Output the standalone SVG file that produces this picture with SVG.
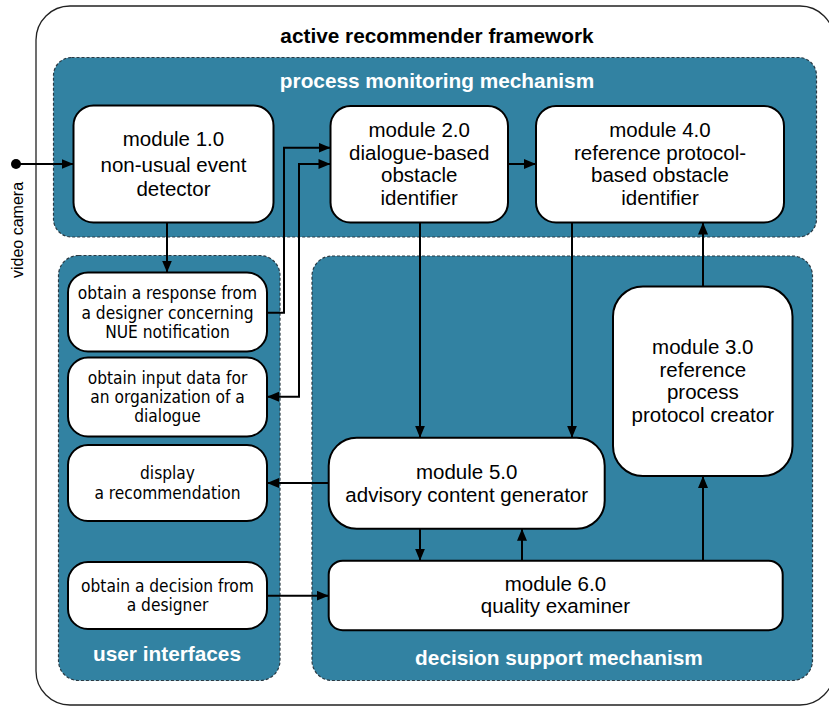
<svg xmlns="http://www.w3.org/2000/svg" width="829" height="706" viewBox="0 0 829 706">
<defs>
<marker id="ah" markerUnits="userSpaceOnUse" markerWidth="13" markerHeight="11" refX="12" refY="5" orient="auto">
<path d="M0,0 L12,5 L0,10 z" fill="#000"/>
</marker>
<marker id="ahs" markerUnits="userSpaceOnUse" markerWidth="13" markerHeight="11" refX="0" refY="5" orient="auto">
<path d="M12,0 L0,5 L12,10 z" fill="#000"/>
</marker>
<style>
.frame{fill:#fff;stroke:#222;stroke-width:1.3}
.grp{fill:#3282a2;stroke:#2a3a44;stroke-width:1.2;stroke-dasharray:3,2}
.node{fill:#fff;stroke:#000;stroke-width:2}
.mt{font-family:"Liberation Sans",Arial,sans-serif;font-size:20.5px;fill:#000;text-anchor:middle}
.ut{font-family:"DejaVu Sans Condensed","DejaVu Sans",sans-serif;font-stretch:condensed;font-size:17.2px;fill:#000;text-anchor:middle}
.bt{font-family:"Liberation Sans",Arial,sans-serif;font-size:20.8px;font-weight:bold;text-anchor:middle}
.wt{fill:#fff}
.c{fill:none;stroke:#000;stroke-width:2}
.ca{fill:none;stroke:#000;stroke-width:2;marker-end:url(#ah)}
</style>
</defs>
<rect class="frame" x="36" y="6" width="798" height="699" rx="34"/>
<text class="bt" x="437" y="43" fill="#000">active recommender framework</text>
<g id="process-monitoring">
<rect class="grp" x="53.5" y="57.5" width="763" height="179.5" rx="18"/>
<text class="bt wt" x="437" y="88">process monitoring mechanism</text>
</g>
<g id="user-interfaces">
<rect class="grp" x="58.5" y="255.5" width="221.5" height="425" rx="20"/>
<text class="bt wt" x="167" y="661">user interfaces</text>
</g>
<g id="decision-support">
<rect class="grp" x="312" y="256" width="500.5" height="424.5" rx="20"/>
<text class="bt wt" x="559" y="665">decision support mechanism</text>
</g>
<g id="video-camera">
<circle cx="16" cy="164" r="5" fill="#000"/>
<text transform="translate(23,230) rotate(-90)" font-family="Liberation Sans,Arial,sans-serif" font-size="16" text-anchor="middle" fill="#000">video camera</text>
</g>
<g id="m1">
<rect class="node" x="73.5" y="105.5" width="200" height="117" rx="20"/>
<text class="mt" x="173.5" y="146">module 1.0</text>
<text class="mt" x="173.5" y="171.5">non-usual event</text>
<text class="mt" x="173.5" y="196">detector</text>
</g>
<g id="m2">
<rect class="node" x="330.5" y="106" width="177.5" height="116.5" rx="20"/>
<text class="mt" x="419.2" y="137">module 2.0</text>
<text class="mt" x="419.2" y="159.5">dialogue-based</text>
<text class="mt" x="419.2" y="182">obstacle</text>
<text class="mt" x="419.2" y="204.5">identifier</text>
</g>
<g id="m4">
<rect class="node" x="536" y="106" width="248" height="116.5" rx="20"/>
<text class="mt" x="660" y="137">module 4.0</text>
<text class="mt" x="660" y="159.5">reference protocol-</text>
<text class="mt" x="660" y="182">based obstacle</text>
<text class="mt" x="660" y="204.5">identifier</text>
</g>
<g id="ui1">
<rect class="node" x="68" y="272.5" width="199" height="79" rx="20"/>
<text class="ut" x="167.5" y="299">obtain a response from</text>
<text class="ut" x="167.5" y="318.5">a designer concerning</text>
<text class="ut" x="167.5" y="337.7">NUE notification</text>
</g>
<g id="ui2">
<rect class="node" x="68" y="357.5" width="199" height="79" rx="20"/>
<text class="ut" x="167.5" y="384">obtain input data for</text>
<text class="ut" x="167.5" y="403.3">an organization of a</text>
<text class="ut" x="167.5" y="422.3">dialogue</text>
</g>
<g id="ui3">
<rect class="node" x="68" y="445" width="199" height="76" rx="20"/>
<text class="ut" x="167.5" y="479.3">display</text>
<text class="ut" x="167.5" y="498.7">a recommendation</text>
</g>
<g id="ui4">
<rect class="node" x="68" y="562" width="199" height="67" rx="20"/>
<text class="ut" x="167.5" y="591.7">obtain a decision from</text>
<text class="ut" x="167.5" y="611">a designer</text>
</g>
<g id="m3">
<rect class="node" x="613" y="286.5" width="179.5" height="189.5" rx="30"/>
<text class="mt" x="702.8" y="354">module 3.0</text>
<text class="mt" x="702.8" y="376.5">reference</text>
<text class="mt" x="702.8" y="399">process</text>
<text class="mt" x="702.8" y="421.5">protocol creator</text>
</g>
<g id="m5">
<rect class="node" x="328.7" y="437.7" width="276" height="91" rx="28"/>
<text class="mt" x="466.7" y="479.3">module 5.0</text>
<text class="mt" x="466.7" y="501.7">advisory content generator</text>
</g>
<g id="m6">
<rect class="node" x="328.7" y="560.7" width="454" height="69.5" rx="14"/>
<text class="mt" x="555.4" y="590.7">module 6.0</text>
<text class="mt" x="555.4" y="612.7">quality examiner</text>
</g>
<g id="connectors">
<path class="ca" d="M16,164 H73.5"/>
<path class="ca" d="M167,222.5 V272.5"/>
<path class="ca" d="M267,312.7 H284 V147.7 H330.5"/>
<path class="ca" d="M330.5,164 H299 V396.7 H267" style="marker-start:url(#ahs)"/>
<path class="ca" d="M508,164 H536"/>
<path class="ca" d="M420,222.5 V437.7"/>
<path class="ca" d="M572,222.5 V437.7"/>
<path class="ca" d="M703,286.5 V222.5"/>
<path class="ca" d="M328.7,483 H267"/>
<path class="ca" d="M267,595.7 H328.7"/>
<path class="ca" d="M420,528.7 V560.7"/>
<path class="ca" d="M522,560.7 V528.7"/>
<path class="ca" d="M703,560.7 V476"/>
</g>
</svg>
